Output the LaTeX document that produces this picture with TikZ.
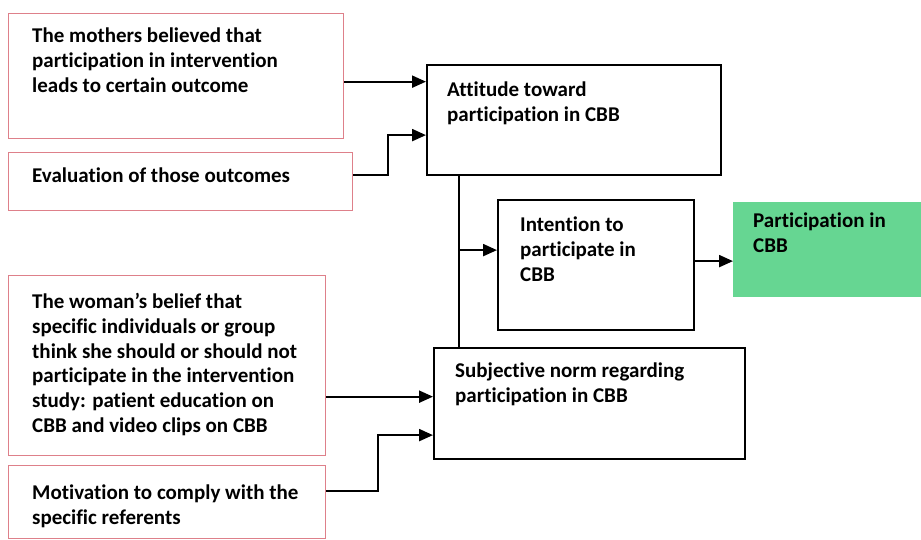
\documentclass[tikz,border=0pt]{standalone}
\usepackage{fontspec}
\setmainfont{Carlito}[Ligatures=NoCommon]
\usetikzlibrary{arrows.meta}
\definecolor{srcred}{RGB}{222,128,138}
\definecolor{partgreen}{RGB}{102,214,146}

\begin{document}
\begin{tikzpicture}[x=1pt,y=-1pt,
  beliefbox/.style={draw=srcred, line width=1.3pt, anchor=north west, inner sep=0pt},
  constructbox/.style={draw=black, line width=2.2pt, anchor=north west, inner sep=0pt},
  txt/.style={anchor=north west, inner sep=0pt, align=left, font=\fontsize{21}{24.8}\selectfont\bfseries},
  flow/.style={line width=2.2pt, -{Triangle[length=14pt,width=12pt]}}]
\useasboundingbox (0,0) rectangle (921,539);
%Attitude side
\node[beliefbox, minimum width=335, minimum height=125] (mothers) at (8,13) {};
\node[txt] (mothersT) at ([shift={(24,15)}]mothers.north west) {The mothers believed that\\participation in intervention\\leads to certain outcome};
\node[beliefbox, minimum width=344, minimum height=58] (evaluation) at (8,152) {};
\node[txt] (evaluationT) at ([shift={(24,16)}]evaluation.north west) {Evaluation of those outcomes};
\node[constructbox, minimum width=294, minimum height=110] (attitude) at (426,64) {};
\node[txt] (attitudeT) at ([shift={(21,18)}]attitude.north west) {Attitude toward\\participation in CBB};
%Intention and behaviour
\node[constructbox, minimum width=196, minimum height=130] (intention) at (497,199) {};
\node[txt] (intentionT) at ([shift={(23,18)}]intention.north west) {Intention to\\participate in\\CBB};
\node[fill=partgreen, anchor=north west, inner sep=0pt, minimum width=188, minimum height=95] (behaviour) at (733,202) {};
\node[txt] (behaviourT) at ([shift={(20,11)}]behaviour.north west) {Participation in\\CBB};
%Subjective norm side
\node[beliefbox, minimum width=317, minimum height=180] (normbelief) at (8,275) {};
\node[txt] (normbeliefT) at ([shift={(24,18)}]normbelief.north west) {The woman’s belief that\\specific individuals or group\\think she should or should not\\participate in the intervention\\study: patient education on\\CBB and video clips on CBB};
\node[beliefbox, minimum width=317, minimum height=73] (motivation) at (8,465) {};
\node[txt] (motivationT) at ([shift={(24,20)}]motivation.north west) {Motivation to comply with the\\specific referents};
\node[constructbox, minimum width=311, minimum height=111] (subjnorm) at (433,347) {};
\node[txt] (subjnormT) at ([shift={(22,16)}]subjnorm.north west) {Subjective norm regarding\\participation in CBB};
%Connectors
\draw[flow] ([yshift=-5.5pt]mothers.east) coordinate (m1) -- (m1 -| attitude.west);
\draw[flow] ([yshift=7pt]evaluation.east) -| ([xshift=-38pt,yshift=-15pt]attitude.west) -- ([yshift=-15pt]attitude.west);
\coordinate (trunk) at ([xshift=33pt]attitude.south west);
\draw[line width=2.2pt] (trunk) -- (trunk |- subjnorm.north);
\coordinate (intin) at ([yshift=15pt]intention.west);
\draw[flow] (intin -| trunk) -- (intin);
\draw[flow] ([yshift=4pt]intention.east) coordinate (i1) -- (i1 -| behaviour.west);
\draw[flow] ([yshift=-31pt]normbelief.east) coordinate (n1) -- (n1 -| subjnorm.west);
\draw[flow] ([yshift=11.5pt]motivation.east) -| ([xshift=-55pt,yshift=-31.5pt]subjnorm.west) -- ([yshift=-31.5pt]subjnorm.west);
\end{tikzpicture}
\end{document}
